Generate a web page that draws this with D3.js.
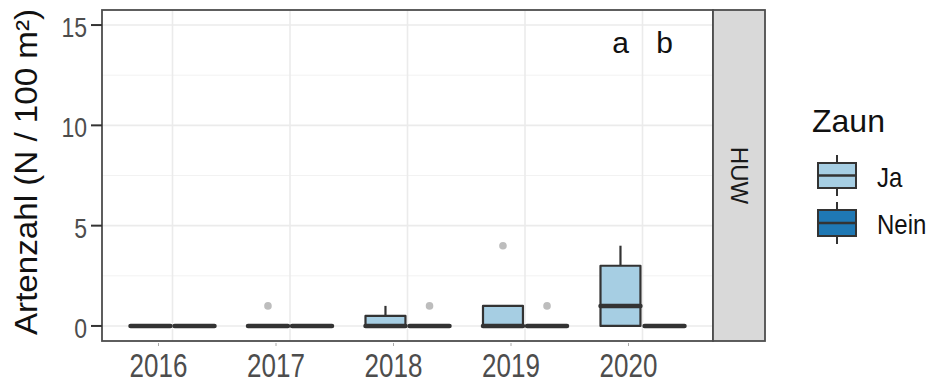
<!DOCTYPE html>
<html>
<head>
<meta charset="utf-8">
<script src="https://cdn.jsdelivr.net/npm/d3@7"></script>
<style>
  html, body { margin: 0; padding: 0; background: #fff; }
  svg { display: block; font-family: "Liberation Sans", Arial, sans-serif; }
</style>
</head>
<body>
<svg id="chart" width="931" height="385"></svg>
<script>
// ---- data ----
const years = ["2016", "2017", "2018", "2019", "2020"];
const groups = ["Ja", "Nein"];
const yTicks = [0, 5, 10, 15];
const yMinor = [2.5, 7.5, 12.5];

const jaLow    = [0, 0, 0, 0, 0];
const jaQ1     = [0, 0, 0, 0, 0];
const jaMedian = [0, 0, 0, 0, 1];
const jaQ3     = [0, 0, 0.5, 1, 3];
const jaHigh   = [0, 0, 1, 1, 4];
const jaOut    = [[], [1], [], [4], []];

const neinLow    = [0, 0, 0, 0, 0];
const neinQ1     = [0, 0, 0, 0, 0];
const neinMedian = [0, 0, 0, 0, 0];
const neinQ3     = [0, 0, 0, 0, 0];
const neinHigh   = [0, 0, 0, 0, 0];
const neinOut    = [[], [], [1], [1], []];

const letters = [{year: "2020", group: "Ja", text: "a"}, {year: "2020", group: "Nein", text: "b"}];
const stripLabel = "HUW";
const legendTitle = "Zaun";
const yTitle = "Artenzahl (N / 100 m²)";

const fills = {Ja: "#A6CEE3", Nein: "#1F78B4"};

// ---- layout ----
const svg = d3.select("#chart");
const P = {left: 102, right: 713, top: 10, bottom: 341};
const strip = {left: 713, right: 765};

const x = d3.scaleLinear().domain([0.4, years.length + 0.6]).range([P.left, P.right]);
const y = d3.scaleLinear().domain([-0.75, 15.75]).range([P.bottom, P.top]);
const unit = x(2) - x(1);
const dodge = d3.scaleOrdinal().domain(groups).range([-0.1875, 0.1875]);
const boxW = 0.34 * unit;
const cx = (yi, g) => x(yi + 1 + dodge(g));

// panel background
svg.append("rect").attr("x", P.left).attr("y", P.top)
  .attr("width", P.right - P.left).attr("height", P.bottom - P.top).attr("fill", "#fff");

// gridlines
const grid = svg.append("g");
grid.selectAll(".ymin").data(yMinor).join("line")
  .attr("x1", P.left).attr("x2", P.right)
  .attr("y1", d => y(d)).attr("y2", d => y(d))
  .attr("stroke", "#F2F2F2").attr("stroke-width", 1);
grid.selectAll(".ymaj").data(yTicks).join("line")
  .attr("x1", P.left).attr("x2", P.right)
  .attr("y1", d => y(d)).attr("y2", d => y(d))
  .attr("stroke", "#EBEBEB").attr("stroke-width", 1.6);
grid.selectAll(".xmaj").data(years).join("line")
  .attr("x1", (d, i) => x(i + 1)).attr("x2", (d, i) => x(i + 1))
  .attr("y1", P.top).attr("y2", P.bottom)
  .attr("stroke", "#EBEBEB").attr("stroke-width", 1.6);

// boxplots
const stats = [];
years.forEach((yr, i) => {
  stats.push({i, g: "Ja", lo: jaLow[i], q1: jaQ1[i], med: jaMedian[i], q3: jaQ3[i], hi: jaHigh[i], out: jaOut[i]});
  stats.push({i, g: "Nein", lo: neinLow[i], q1: neinQ1[i], med: neinMedian[i], q3: neinQ3[i], hi: neinHigh[i], out: neinOut[i]});
});

const boxes = svg.append("g");
stats.forEach(s => {
  const c = cx(s.i, s.g);
  const g = boxes.append("g");
  g.append("line").attr("x1", c).attr("x2", c).attr("y1", y(s.q3)).attr("y2", y(s.hi))
    .attr("stroke", "#333").attr("stroke-width", 2.2);
  g.append("line").attr("x1", c).attr("x2", c).attr("y1", y(s.q1)).attr("y2", y(s.lo))
    .attr("stroke", "#333").attr("stroke-width", 2.2);
  g.append("rect").attr("x", c - boxW / 2).attr("width", boxW)
    .attr("y", y(s.q3)).attr("height", Math.max(0, y(s.q1) - y(s.q3)))
    .attr("fill", fills[s.g]).attr("stroke", "#333").attr("stroke-width", 2.2)
    .attr("stroke-linejoin", "round");
  g.append("line").attr("x1", c - boxW / 2).attr("x2", c + boxW / 2)
    .attr("y1", y(s.med)).attr("y2", y(s.med))
    .attr("stroke", "#333").attr("stroke-width", 4.5).attr("stroke-linecap", "round");
  g.selectAll("circle").data(s.out).join("circle")
    .attr("cx", c).attr("cy", d => y(d)).attr("r", 3.8).attr("fill", "#BDBDBD");
});

// letters
svg.append("g").selectAll("text").data(letters).join("text")
  .attr("x", d => cx(years.indexOf(d.year), d.group))
  .attr("y", 53)
  .attr("text-anchor", "middle")
  .attr("font-size", 30).attr("fill", "#111")
  .text(d => d.text);

// panel border
svg.append("rect").attr("x", P.left).attr("y", P.top)
  .attr("width", P.right - P.left).attr("height", P.bottom - P.top)
  .attr("fill", "none").attr("stroke", "#4d4d4d").attr("stroke-width", 1.8);

// strip
svg.append("rect").attr("x", strip.left).attr("y", P.top)
  .attr("width", strip.right - strip.left).attr("height", P.bottom - P.top)
  .attr("fill", "#D9D9D9").attr("stroke", "#4d4d4d").attr("stroke-width", 1.8);
svg.append("text")
  .attr("transform", `translate(${(strip.left + strip.right) / 2 - 8},${(P.top + P.bottom) / 2}) rotate(90)`)
  .attr("text-anchor", "middle").attr("font-size", 24).attr("fill", "#1a1a1a")
  .text(stripLabel);

// y axis ticks & labels
const yAxis = svg.append("g");
yAxis.selectAll("line").data(yTicks).join("line")
  .attr("x1", P.left - 11).attr("x2", P.left)
  .attr("y1", d => y(d)).attr("y2", d => y(d))
  .attr("stroke", "#333").attr("stroke-width", 2);
yAxis.selectAll("text").data(yTicks).join("text")
  .attr("transform", d => `translate(87,${y(d) + 12}) scale(1,1.2)`)
  .attr("text-anchor", "end").attr("font-size", 23).attr("fill", "#4D4D4D")
  .text(d => d);

// x axis labels
const xAxis = svg.append("g");
xAxis.selectAll("line").data(years).join("line")
  .attr("x1", (d, i) => x(i + 1) - 14).attr("x2", (d, i) => x(i + 1) - 14)
  .attr("y1", P.bottom + 2).attr("y2", P.bottom + 5)
  .attr("stroke", "#aaa").attr("stroke-width", 1);
xAxis.selectAll("text").data(years).join("text")
  .attr("transform", (d, i) => `translate(${x(i + 1) - 14},377) scale(1,1.3)`)
  .attr("text-anchor", "middle").attr("font-size", 26).attr("fill", "#4D4D4D")
  .text(d => d);

// y title
svg.append("text")
  .attr("transform", `translate(37,172) rotate(-90)`)
  .attr("text-anchor", "middle").attr("font-size", 31).attr("fill", "#111")
  .attr("textLength", 326).attr("lengthAdjust", "spacingAndGlyphs")
  .text(yTitle);

// legend
const leg = svg.append("g");
leg.append("text").attr("x", 812).attr("y", 132).attr("font-size", 32).attr("fill", "#111").text(legendTitle);
const keyRows = [
  {g: "Ja", top: 163, bot: 188, wt: 155, wb: 196, ty: 187},
  {g: "Nein", top: 210, bot: 236, wt: 202, wb: 244, ty: 234}
];
keyRows.forEach(k => {
  const kx = 837;
  leg.append("line").attr("x1", kx).attr("x2", kx).attr("y1", k.wt).attr("y2", k.wb)
    .attr("stroke", "#333").attr("stroke-width", 2);
  leg.append("rect").attr("x", 818).attr("y", k.top).attr("width", 38).attr("height", k.bot - k.top)
    .attr("fill", fills[k.g]).attr("stroke", "#333").attr("stroke-width", 2);
  leg.append("line").attr("x1", 818).attr("x2", 856)
    .attr("y1", (k.top + k.bot) / 2).attr("y2", (k.top + k.bot) / 2)
    .attr("stroke", "#333").attr("stroke-width", 2.5);
  leg.append("text").attr("transform", `translate(877,${k.ty}) scale(1,1.15)`)
    .attr("font-size", 24).attr("fill", "#111").text(k.g);
});
</script>
</body>
</html>
